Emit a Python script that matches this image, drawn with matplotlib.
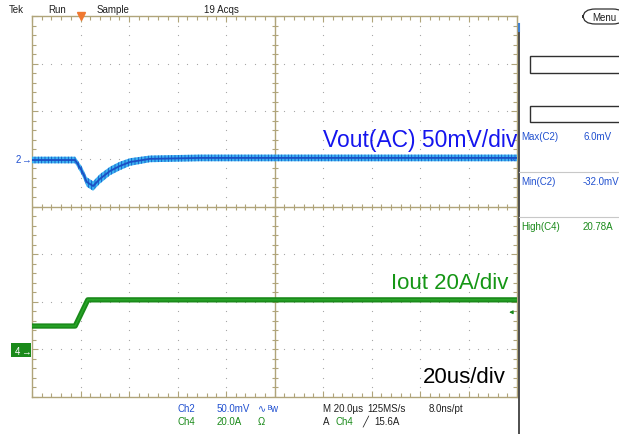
import numpy as np
import matplotlib
matplotlib.use("Agg")
import matplotlib.pyplot as plt
from matplotlib.patches import Rectangle, FancyBboxPatch
from matplotlib.lines import Line2D

plt.rcParams['font.family'] = ['Liberation Sans', 'DejaVu Sans']
plt.rcParams['hatch.linewidth'] = 0.6

W, H = 619, 435

# Scope settings
ch2_offset_div = 1.0      # Ch2 ground marker, divisions above centre
ch4_offset_div = -3.0     # Ch4 ground marker
ch2_scale_mv = 50.0       # mV/div
ch4_scale_a = 20.0        # A/div
trig_pos_div = 1.0
trig_level_a = 15.6

# Vout (AC) trace, time in divisions, mV
vout_t = [0, 0.89, 1.03, 1.13, 1.26, 1.40, 1.61, 1.81, 2.02, 2.43, 3.46, 10]
vout_mv = [-1.2, -1.2, -12.7, -24.3, -28.5, -21.0, -12.7, -7.5, -3.3, 0.0, 1.0, 1.0]
vout_noise_mv = [3.5, 3.5, 4.5, 5.0, 5.0, 5.0, 4.5, 4.5, 4.0, 3.5, 3.5, 3.5]

# Iout trace, time in divisions, A
iout_t = [0, 0.89, 1.15, 10]
iout_a = [9.8, 9.8, 20.8, 20.8]

def fx(x):
    return x / W

def fy(y):
    return 1 - y / H

fig = plt.figure(figsize=(W / 100, H / 100), dpi=100)
ax = fig.add_axes([fx(32), fy(398), (517 - 32) / W, (398 - 17) / H])
ax.set_xlim(0, 10)
ax.set_ylim(-4, 4)

tan = '#b0a47a'
for s in ax.spines.values():
    s.set_color(tan)
    s.set_linewidth(1.0)
ax.set_xticks(np.arange(0, 11, 1))
ax.set_yticks(np.arange(-4, 5, 1))
ax.set_xticks(np.arange(0, 10.01, 0.2), minor=True)
ax.set_yticks(np.arange(-4, 4.01, 0.2), minor=True)
ax.tick_params(which='both', direction='in', top=True, right=True, color=tan,
               labelbottom=False, labelleft=False, width=0.8)
ax.tick_params(which='major', length=4)
ax.tick_params(which='minor', length=3)

# dotted graticule
xs = np.arange(0, 10.01, 0.2)
ys = np.arange(-4, 4.01, 0.2)
for gy in [-3, -2, -1, 1, 2, 3]:
    ax.plot(xs, np.full_like(xs, gy), ls='none', marker='s', ms=0.8, color='#a8a8a8', mew=0)
for gx in [1, 2, 3, 4, 6, 7, 8, 9]:
    ax.plot(np.full_like(ys, gx), ys, ls='none', marker='s', ms=0.8, color='#a8a8a8', mew=0)

# centre cross with ticks
ax.axhline(0, color=tan, lw=1.0)
ax.axvline(5, color=tan, lw=1.0)
ax.plot(xs, np.zeros_like(xs), ls='none', marker='|', ms=5, mew=0.8, color=tan)
ax.plot(np.full_like(ys, 5), ys, ls='none', marker='_', ms=5, mew=0.8, color=tan)

# Vout trace
vt = np.array(vout_t)
vy = ch2_offset_div + np.array(vout_mv) / ch2_scale_mv
vn = np.array(vout_noise_mv) / ch2_scale_mv
ax.fill_between(vt, vy - vn, vy + vn, facecolor='#3ab4f2', edgecolor='#1b4fc4',
                hatch='|||||', linewidth=0, zorder=3)
ax.plot(vt, vy, color='#1b4fc4', lw=1.3, zorder=4)

# Iout trace
it = np.array(iout_t)
iy = ch4_offset_div + np.array(iout_a) / ch4_scale_a
ax.plot(it, iy, color='#1a8a1a', lw=3.8, zorder=3, solid_capstyle='butt')
ax.plot(it, iy, color='#2aa82a', lw=1.0, zorder=4)

# trigger position / level markers
ax.plot([trig_pos_div], [4], marker='v', ms=6, color='#f07830', clip_on=False, zorder=6)
tl = ch4_offset_div + trig_level_a / ch4_scale_a
ax.annotate('', xy=(9.78, tl), xytext=(9.97, tl),
            arrowprops=dict(arrowstyle='-|>', color='#1a8a1a', lw=0.8, mutation_scale=5))

# big labels
ax.text(1.0, (fy(147) - fy(398)) / ((398 - 17) / H), 'Vout(AC) 50mV/div', transform=ax.transAxes,
        ha='right', va='baseline', fontsize=16.5, color='#1515ee')
fig.text(fx(508), fy(289), 'Iout 20A/div', ha='right', va='baseline', fontsize=16, color='#159615')
fig.text(fx(506), fy(383), '20us/div', ha='right', va='baseline', fontsize=16, color='black')

# header
small = 7
for x, s in [(9, 'Tek'), (48, 'Run'), (97, 'Sample'), (204, '19 Acqs')]:
    fig.text(fx(x), fy(13), s, fontsize=small, va='baseline', color='#202020')

# channel ground markers
fig.text(fx(16), fy(163.5), '2', fontsize=small, color='#2050d0', va='baseline')
fig.text(fx(21), fy(163.5), '→', fontsize=small, color='#2050d0', va='baseline')
fig.add_artist(Rectangle((fx(11), fy(358)), (31 - 11) / W, (358 - 344) / H,
                         transform=fig.transFigure, facecolor='#1a8a1a', edgecolor='none'))
fig.text(fx(15), fy(355), '4', fontsize=small, color='white', va='baseline')
fig.text(fx(21), fy(355), '→', fontsize=small, color='white', va='baseline')

# right panel
fig.add_artist(Line2D([fx(519), fx(519)], [fy(25), fy(435)], color='#303030', lw=1.2))
fig.add_artist(Line2D([fx(519), fx(519)], [fy(25), fy(32)], color='#4080d0', lw=1.5))
fig.text(fx(510), fy(162), '«', fontsize=small, color='#2050d0', va='baseline')
fig.add_artist(FancyBboxPatch((fx(583), fy(25)), (625 - 583) / W, (25 - 10) / H,
                              boxstyle='round,pad=0,rounding_size=0.02',
                              transform=fig.transFigure, facecolor='white', edgecolor='#303030', lw=0.9))
fig.text(fx(592), fy(21), 'Menu', fontsize=small, color='#202020', va='baseline')
for y0, y1 in [(57, 74), (107, 123)]:
    fig.add_artist(Rectangle((fx(530), fy(y1)), (625 - 530) / W, (y1 - y0) / H,
                             transform=fig.transFigure, facecolor='white', edgecolor='#303030', lw=1.0))
for y in [173, 218]:
    fig.add_artist(Line2D([fx(519), fx(619)], [fy(y), fy(y)], color='#c8c8c8', lw=0.8))
meas = [('Max(C2)', '6.0mV', 140, '#2050d0'),
        ('Min(C2)', '-32.0mV', 185, '#2050d0'),
        ('High(C4)', '20.78A', 230, '#1a8a1a')]
for name, val, y, c in meas:
    fig.text(fx(521), fy(y), name, fontsize=small, color=c, va='baseline')
    fig.text(fx(583), fy(y), val, fontsize=small, color=c, va='baseline')

# status bar
blue_s, green_s, dark = '#2050d0', '#1a8a1a', '#202020'
row1 = [(178, 'Ch2', blue_s), (217, '50.0mV', blue_s), (258, '∿', blue_s), (268, 'ᴮw', blue_s),
        (323, 'M 20.0µs', dark), (367, '125MS/s', dark), (429, '8.0ns/pt', dark)]
row2 = [(178, 'Ch4', green_s), (217, '20.0A', green_s), (258, 'Ω', green_s),
        (323, 'A', dark), (335, 'Ch4', green_s), (362, '╱', dark), (374, '15.6A', dark)]
for x, s, c in row1:
    fig.text(fx(x), fy(412), s, fontsize=small, color=c, va='baseline')
for x, s, c in row2:
    fig.text(fx(x), fy(425), s, fontsize=small, color=c, va='baseline')

fig.savefig('out.png', dpi=100)
